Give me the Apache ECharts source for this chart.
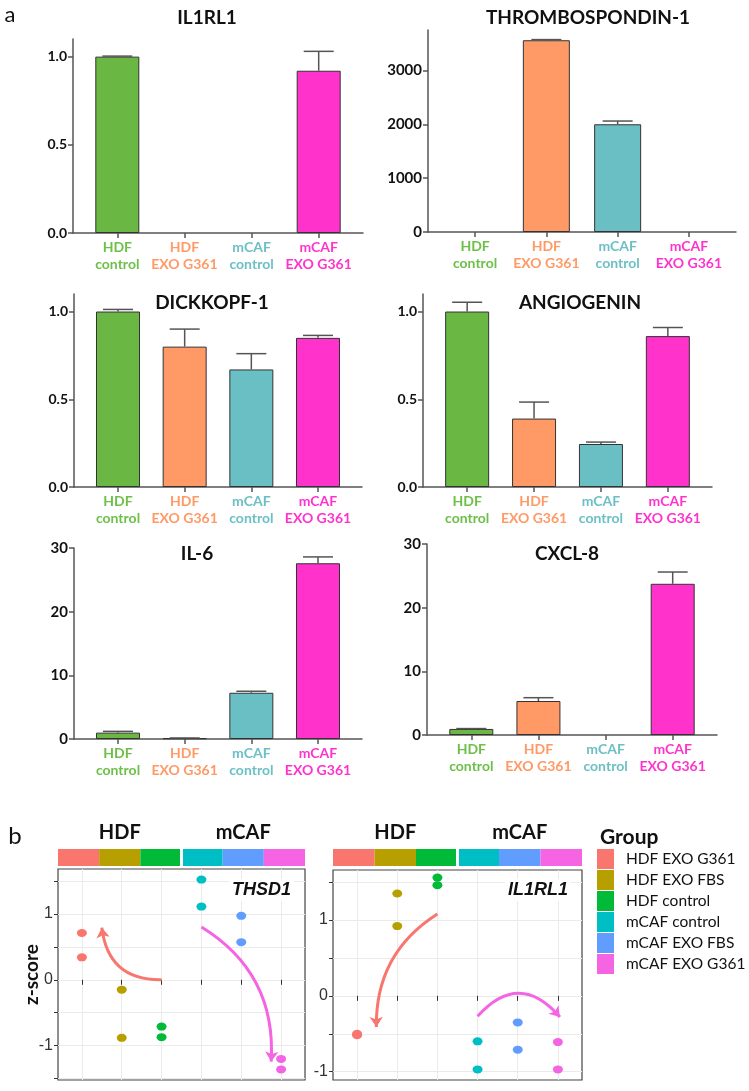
<!DOCTYPE html>
<html>
<head>
<meta charset="utf-8">
<script src="https://cdn.jsdelivr.net/npm/echarts@6/dist/echarts.min.js"></script>
<style>
html, body { margin: 0; padding: 0; background: #fff; }
#main { width: 749px; height: 1091px; }
</style>
</head>
<body>
<div id="main"></div>
<script>
// ---- panel a : bar charts ----
var barGroups = [["HDF", "control"], ["HDF", "EXO G361"], ["mCAF", "control"], ["mCAF", "EXO G361"]];
var barColors = ["#6ab843", "#ff9966", "#6abfc4", "#ff33cc"];
var labelColors = ["#6cbf47", "#ff9966", "#6cc0c5", "#ff33cc"];

var il1rl1Mean = [1.0, 0, 0, 0.92];
var il1rl1Sd = [0.003, 0, 0, 0.11];
var thbs1Mean = [0, 3560, 2000, 0];
var thbs1Sd = [0, 12, 60, 0];
var dkk1Mean = [1.0, 0.80, 0.67, 0.85];
var dkk1Sd = [0.012, 0.10, 0.09, 0.014];
var angMean = [1.0, 0.39, 0.245, 0.86];
var angSd = [0.053, 0.094, 0.011, 0.049];
var il6Mean = [1.0, 0.12, 7.26, 27.6];
var il6Sd = [0.2, 0.04, 0.24, 1.0];
var cxcl8Mean = [0.95, 5.34, 0, 23.75];
var cxcl8Sd = [0.06, 0.52, 0, 1.85];

var yTicksFrac = [0, 0.5, 1.0];
var yTicksThbs = [0, 1000, 2000, 3000];
var yTicksInt = [0, 10, 20, 30];

// ---- panel b : z-score dot plots ----
var groupNames = ["HDF EXO G361", "HDF EXO FBS", "HDF control", "mCAF control", "mCAF EXO FBS", "mCAF EXO G361"];
var groupColors = ["#f8766d", "#b79f00", "#00ba38", "#00bfc4", "#619cff", "#f564e3"];
var cellTypes = ["HDF", "mCAF"];
var thsd1Z = [[0.71, 0.34], [-0.15, -0.88], [-0.71, -0.87], [1.52, 1.11], [0.97, 0.57], [-1.2, -1.36]];
var il1rl1Z = [[-0.5, -0.52], [1.35, 0.92], [1.56, 1.46], [-0.6, -0.97], [-0.35, -0.71], [-0.61, -0.97]];
var zLabels = [-1, 0, 1];
var zTicks = [-1.5, -1, -0.5, 0, 0.5, 1, 1.5];
var thsd1Arrows = [
  { from: [3, 0], to: [1.5, 0.79], group: 0, bend: 0.45 },
  { from: [4, 0.8], to: [5.75, -1.24], group: 5, bend: 0.3 }
];
var il1rl1Arrows = [
  { from: [3, 1.08], to: [1.48, -0.41], group: 0, bend: -0.28 },
  { from: [4, -0.27], to: [6.05, -0.28], group: 5, bend: 0.57 }
];

var barPanels = [
  { title: "IL1RL1", mean: il1rl1Mean, sd: il1rl1Sd, ticks: yTicksFrac, max: 1.1 },
  { title: "THROMBOSPONDIN-1", mean: thbs1Mean, sd: thbs1Sd, ticks: yTicksThbs, max: 3750 },
  { title: "DICKKOPF-1", mean: dkk1Mean, sd: dkk1Sd, ticks: yTicksFrac, max: 1.1 },
  { title: "ANGIOGENIN", mean: angMean, sd: angSd, ticks: yTicksFrac, max: 1.1 },
  { title: "IL-6", mean: il6Mean, sd: il6Sd, ticks: yTicksInt, max: 30 },
  { title: "CXCL-8", mean: cxcl8Mean, sd: cxcl8Sd, ticks: yTicksInt, max: 30 }
];
// positions of each bar panel
var barLayout = [
  { left: 73, top: 39, width: 290, height: 194, fs: 14, bw: 44, tx: 207, ty: 18 },
  { left: 428, top: 30, width: 308, height: 202, fs: 15, bw: 47, tx: 588, ty: 18 },
  { left: 74, top: 294, width: 288, height: 193, fs: 14, bw: 44, tx: 212, ty: 303 },
  { left: 423, top: 294, width: 289, height: 193, fs: 14, bw: 44, tx: 580, ty: 303 },
  { left: 74, top: 548, width: 288, height: 191, fs: 15, bw: 44, tx: 197, ty: 554 },
  { left: 427, top: 544, width: 290, height: 191, fs: 15, bw: 44, tx: 567, ty: 554 }
];

var chart = echarts.init(document.getElementById("main"));

var grids = [], xAxes = [], yAxes = [], series = [], graphics = [];
var axisGrey = "#555";

var rich = {};
labelColors.forEach(function (c, k) {
  rich["c" + k] = { color: c, fontFamily: "Lato", fontWeight: "bold", fontSize: 14, lineHeight: 17 };
});

barPanels.forEach(function (p, i) {
  var L = barLayout[i];
  grids.push({ left: L.left, top: L.top, width: L.width, height: L.height });
  xAxes.push({
    gridIndex: i, type: "value", min: -0.66, max: 3.66,
    axisLine: { show: true, onZero: false, lineStyle: { color: axisGrey, width: 1.5 } },
    axisTick: { show: true, customValues: [0, 1, 2, 3], length: 5, lineStyle: { color: axisGrey, width: 1.5 } },
    axisLabel: {
      customValues: [0, 1, 2, 3], margin: 6, rich: rich,
      formatter: function (v) {
        var k = Math.round(v);
        return "{c" + k + "|" + barGroups[k][0] + "}\n{c" + k + "|" + barGroups[k][1] + "}";
      }
    },
    splitLine: { show: false }
  });
  yAxes.push({
    gridIndex: i, type: "value", min: 0, max: p.max,
    axisLine: { show: true, onZero: false, lineStyle: { color: axisGrey, width: 1.5 } },
    axisTick: { show: true, customValues: p.ticks, length: 5, lineStyle: { color: axisGrey, width: 1.5 } },
    axisLabel: {
      customValues: p.ticks, margin: 6, color: "#111", fontFamily: "Lato", fontWeight: "bold", fontSize: L.fs,
      formatter: function (v) { return p.max < 2 ? v.toFixed(1) : String(v); }
    },
    splitLine: { show: false }
  });
  series.push({
    type: "bar", xAxisIndex: i, yAxisIndex: i, barWidth: L.bw,
    itemStyle: { borderColor: "#333", borderWidth: 1 },
    data: p.mean.map(function (m, k) {
      return { value: [k, m], itemStyle: { color: barColors[k], borderWidth: m > 0 ? 1 : 0 } };
    })
  });
  // error bars (mean + SD)
  series.push({
    type: "custom", xAxisIndex: i, yAxisIndex: i, z: 3,
    encode: { x: 0, y: [1, 2] },
    data: p.mean.map(function (m, k) { return [k, m, m + p.sd[k]]; }),
    renderItem: function (params, api) {
      if (api.value(2) <= api.value(1)) return;
      var x = api.value(0);
      var base = api.coord([x, api.value(1)]);
      var top = api.coord([x, api.value(2)]);
      var st = { stroke: "#555", lineWidth: 1.5 };
      return {
        type: "group", children: [
          { type: "line", shape: { x1: top[0], y1: top[1], x2: base[0], y2: base[1] }, style: st },
          { type: "line", shape: { x1: top[0] - 15, y1: top[1], x2: top[0] + 15, y2: top[1] }, style: st }
        ]
      };
    }
  });
  graphics.push({
    type: "text", x: L.tx, y: L.ty,
    style: { text: p.title, font: "bold 19px Lato", fill: "#111", textAlign: "center", textVerticalAlign: "middle" }
  });
});

// ---- panel b ----
var dotPanels = [
  { gene: "THSD1", z: thsd1Z, arrows: thsd1Arrows, ymin: -1.52, ymax: 1.68, name: "z-score" },
  { gene: "IL1RL1", z: il1rl1Z, arrows: il1rl1Arrows, ymin: -1.11, ymax: 1.66, name: "" }
];
var dotLayout = [
  { left: 58, top: 869, width: 247, height: 211, gx: 294, gy: 890 },
  { left: 333, top: 870, width: 249, height: 210, gx: 571, gy: 890 }
];

dotPanels.forEach(function (p, j) {
  var L = dotLayout[j];
  var gi = 6 + j;
  grids.push({ left: L.left, top: L.top, width: L.width, height: L.height, show: true,
    borderColor: "#444", borderWidth: 1.2, backgroundColor: "#fff" });
  xAxes.push({
    gridIndex: gi, type: "value", min: 0.4, max: 6.6,
    axisLine: { show: false },
    axisTick: { show: true, customValues: [1, 2, 3, 4, 5, 6], length: 5, lineStyle: { color: "#333", width: 1 } },
    axisLabel: { show: false },
    splitLine: { show: true, lineStyle: { color: "#ebebeb", width: 1 } }
  });
  yAxes.push({
    gridIndex: gi, type: "value", min: p.ymin, max: p.ymax,
    name: p.name, nameLocation: "middle", nameGap: 17, nameMoveOverlap: false,
    nameTextStyle: { fontFamily: "Lato", fontWeight: "bold", fontSize: 19, color: "#111" },
    axisLine: { show: false, onZero: false },
    axisTick: { show: true, customValues: zTicks, length: 4, lineStyle: { color: "#333", width: 1 } },
    axisLabel: { customValues: zLabels, margin: 5, color: "#333", fontFamily: "Liberation Sans", fontSize: 16 },
    splitLine: { show: true, lineStyle: { color: "#ebebeb", width: 1 } }
  });
  p.z.forEach(function (vals, g) {
    series.push({
      type: "scatter", name: groupNames[g], xAxisIndex: gi, yAxisIndex: gi,
      symbolSize: [10, 8], itemStyle: { color: groupColors[g], opacity: 1 },
      data: vals.map(function (v) { return [g + 1, v]; })
    });
  });
  p.arrows.forEach(function (a) {
    series.push({
      type: "lines", coordinateSystem: "cartesian2d", xAxisIndex: gi, yAxisIndex: gi, z: 5,
      symbol: ["none", "arrow"], symbolSize: 10,
      lineStyle: { color: groupColors[a.group], width: 3, opacity: 1, curveness: a.bend },
      data: [{ coords: [a.from, a.to] }]
    });
  });
  graphics.push({
    type: "text", x: L.gx, y: L.gy, z: 10,
    style: { text: p.gene, font: "italic bold 18px Liberation Sans", fill: "#111", textAlign: "right",
      textVerticalAlign: "middle", backgroundColor: "#fff", padding: [2, 3] }
  });
});

// group colour strips above the dot plots
var stripLayout = [
  { left: 58, top: 849, width: 247, height: 17 },
  { left: 333, top: 849, width: 249, height: 17 }
];
stripLayout.forEach(function (L, j) {
  var gi = 8 + j;
  grids.push({ left: L.left, top: L.top, width: L.width, height: L.height });
  xAxes.push({
    gridIndex: gi, type: "value", min: 0, max: 6, position: "top",
    axisLine: { show: false }, axisTick: { show: false }, splitLine: { show: false },
    axisLabel: {
      customValues: [1.5, 4.5], margin: 6, color: "#111", fontFamily: "Lato", fontWeight: "bold", fontSize: 20,
      formatter: function (v) { return v < 3 ? cellTypes[0] : cellTypes[1]; }
    }
  });
  yAxes.push({ gridIndex: gi, type: "value", min: 0, max: 1, show: false });
  series.push({
    type: "custom", xAxisIndex: gi, yAxisIndex: gi, encode: { x: 0, y: 1 },
    data: groupNames.map(function (n, k) { return [k, 1]; }),
    renderItem: function (params, api) {
      var k = api.value(0);
      var a = api.coord([k, 1]);
      var b = api.coord([k + 1, 0]);
      var x0 = a[0], x1 = b[0];
      if (k === 2) x1 -= 1.5;
      if (k === 3) x0 += 1.5;
      return { type: "rect", shape: { x: x0, y: a[1], width: x1 - x0, height: b[1] - a[1] },
        style: { fill: groupColors[k] } };
    }
  });
});

graphics.push(
  { type: "text", x: 10, y: 15, style: { text: "a", font: "22px Lato", fill: "#111", textAlign: "center", textVerticalAlign: "middle" } },
  { type: "text", x: 15, y: 836, style: { text: "b", font: "24px Lato", fill: "#111", textAlign: "center", textVerticalAlign: "middle" } },
  { type: "text", x: 600, y: 837, style: { text: "Group", font: "bold 21px Lato", fill: "#111", textAlign: "left", textVerticalAlign: "middle" } }
);

var option = {
  animation: false,
  backgroundColor: "#fff",
  textStyle: { fontFamily: "Lato" },
  grid: grids,
  xAxis: xAxes,
  yAxis: yAxes,
  legend: {
    orient: "vertical", left: 597, top: 849, padding: 0,
    itemWidth: 17, itemHeight: 20, itemGap: 1, icon: "rect", selectedMode: false,
    textStyle: { fontFamily: "Lato", fontSize: 15.5, color: "#111", padding: [0, 0, 0, 7] },
    data: groupNames
  },
  graphic: graphics,
  series: series
};
option && chart.setOption(option);
</script>
</body>
</html>
